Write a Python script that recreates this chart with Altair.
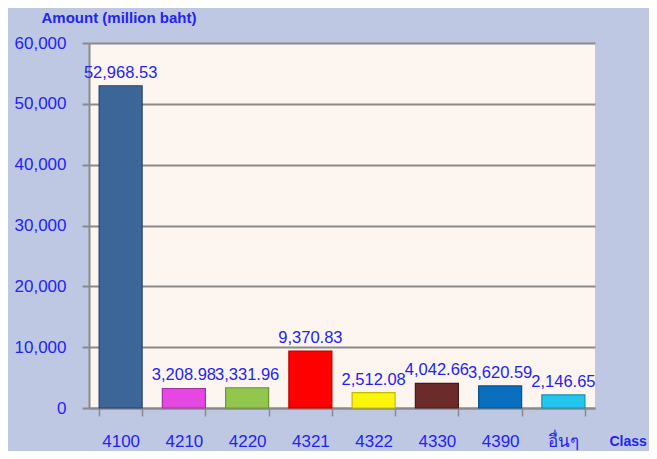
import altair as alt
import pandas as pd

classes = ["4100", "4210", "4220", "4321", "4322", "4330", "4390", "อื่นๆ"]
amounts = [52968.53, 3208.98, 3331.96, 9370.83, 2512.08, 4042.66, 3620.59, 2146.65]
labels = ["52,968.53", "3,208.98", "3,331.96", "9,370.83", "2,512.08", "4,042.66", "3,620.59", "2,146.65"]
fills = ["#3C6598", "#E548E2", "#92C64C", "#FF0000", "#FAF50A", "#6B2B2B", "#0B6FBF", "#22C6EF"]
strokes = ["#27456E", "#A52FA3", "#6A9535", "#B80000", "#C2BC00", "#4A1A1A", "#07508C", "#1590B0"]

df = pd.DataFrame({"cls": classes, "amt": amounts, "lab": labels, "fill": fills, "stroke": strokes})

BLUE = "#2323F5"
FONT = "Liberation Sans"

x = alt.X("cls:N", sort=classes,
          scale=alt.Scale(paddingInner=0.32, paddingOuter=0.16),
          axis=alt.Axis(title="Class", titleX=520, titleY=33, titleAlign="left",
                        titleBaseline="middle", titleFontSize=14, titleFontWeight="bold",
                        titleColor=BLUE, titleFont=FONT,
                        labelAngle=0, labelFontSize=17, labelColor=BLUE, labelFont=FONT,
                        labelPadding=17, tickBand="extent", tickSize=8, tickColor="#8A8A8A",
                        tickWidth=1.5, domainColor="#8A8A8A", domainWidth=2, grid=False))

y = alt.Y("amt:Q", scale=alt.Scale(domain=[0, 60000], nice=False),
          axis=alt.Axis(title="Amount (million baht)", titleAngle=0, titleX=-48, titleY=-26,
                        titleAlign="left", titleBaseline="middle", titleFontSize=15,
                        titleFontWeight="bold", titleColor=BLUE, titleFont=FONT,
                        values=[0, 10000, 20000, 30000, 40000, 50000, 60000], format=",d",
                        labelFontSize=17, labelColor=BLUE, labelFont=FONT, labelPadding=16,
                        tickSize=7, tickColor="#8A8A8A", tickWidth=2,
                        domainColor="#8A8A8A", domainWidth=2,
                        grid=True, gridColor="#8A8A8A", gridWidth=2))

bars = alt.Chart(df).mark_bar(strokeWidth=1.2).encode(
    x=x, y=y,
    color=alt.Color("fill:N", scale=None),
    stroke=alt.Stroke("stroke:N", scale=None),
)

text = alt.Chart(df).mark_text(fontSize=16.5, font=FONT, color=BLUE, dy=-8,
                               baseline="alphabetic", align="center").encode(
    x=alt.X("cls:N", sort=classes), y="amt:Q", text="lab:N")

chart = alt.layer(bars, text).properties(
    width=506, height=365,
    autosize=alt.AutoSizeParams(type="none"),
    padding={"left": 81, "top": 35, "right": 54, "bottom": 43},
    background="#BEC8E2",
).configure_view(fill="#FDF5F0", stroke=None)

chart.save("out.html", embed_options={"renderer": "svg", "actions": False})
